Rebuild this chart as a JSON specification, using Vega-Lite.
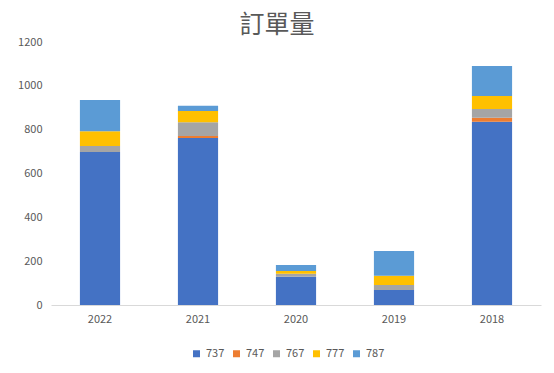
{
  "$schema": "https://vega.github.io/schema/vega-lite/v6.json",
  "width": 490,
  "height": 263,
  "autosize": {"type": "none"},
  "padding": {"left": 51, "top": 42, "right": 13, "bottom": 68},
  "background": "white",
  "title": {
    "text": "訂單量",
    "font": "Noto Sans CJK TC",
    "fontSize": 25,
    "fontWeight": "normal",
    "color": "#595959",
    "anchor": "middle",
    "dx": -19,
    "offset": -2
  },
  "data": {
    "values": [
      {"year": "2022", "model": "737", "orders": 698},
      {"year": "2022", "model": "747", "orders": 0},
      {"year": "2022", "model": "767", "orders": 27},
      {"year": "2022", "model": "777", "orders": 68},
      {"year": "2022", "model": "787", "orders": 142},
      {"year": "2021", "model": "737", "orders": 762},
      {"year": "2021", "model": "747", "orders": 9},
      {"year": "2021", "model": "767", "orders": 63},
      {"year": "2021", "model": "777", "orders": 51},
      {"year": "2021", "model": "787", "orders": 24},
      {"year": "2020", "model": "737", "orders": 129},
      {"year": "2020", "model": "747", "orders": 0},
      {"year": "2020", "model": "767", "orders": 14},
      {"year": "2020", "model": "777", "orders": 12},
      {"year": "2020", "model": "787", "orders": 27},
      {"year": "2019", "model": "737", "orders": 68},
      {"year": "2019", "model": "747", "orders": 0},
      {"year": "2019", "model": "767", "orders": 23},
      {"year": "2019", "model": "777", "orders": 43},
      {"year": "2019", "model": "787", "orders": 112},
      {"year": "2018", "model": "737", "orders": 836},
      {"year": "2018", "model": "747", "orders": 18},
      {"year": "2018", "model": "767", "orders": 40},
      {"year": "2018", "model": "777", "orders": 60},
      {"year": "2018", "model": "787", "orders": 136}
    ]
  },
  "mark": {"type": "bar"},
  "encoding": {
    "x": {
      "field": "year",
      "type": "nominal",
      "sort": ["2022", "2021", "2020", "2019", "2018"],
      "scale": {"paddingInner": 0.59, "paddingOuter": 0.295},
      "axis": {
        "title": null,
        "labelAngle": 0,
        "ticks": false,
        "domainColor": "#D9D9D9",
        "labelColor": "#595959",
        "labelFont": "Noto Sans CJK TC",
        "labelFontSize": 11,
        "labelPadding": 8
      }
    },
    "y": {
      "field": "orders",
      "type": "quantitative",
      "stack": "zero",
      "scale": {"domain": [0, 1200]},
      "axis": {
        "title": null,
        "values": [0, 200, 400, 600, 800, 1000, 1200],
        "format": "d",
        "grid": false,
        "domain": false,
        "ticks": false,
        "labelColor": "#595959",
        "labelFont": "Noto Sans CJK TC",
        "labelFontSize": 11,
        "labelPadding": 9
      }
    },
    "color": {
      "field": "model",
      "type": "nominal",
      "scale": {
        "domain": ["737", "747", "767", "777", "787"],
        "range": ["#4472C4", "#ED7D31", "#A5A5A5", "#FFC000", "#5B9BD5"]
      },
      "legend": {
        "title": null,
        "orient": "none",
        "direction": "horizontal",
        "legendX": 140,
        "legendY": 306,
        "symbolType": "square",
        "symbolSize": 49,
        "symbolStrokeWidth": 0,
        "labelColor": "#595959",
        "labelFont": "Noto Sans CJK TC",
        "labelFontSize": 11,
        "labelOffset": 4,
        "columnPadding": 6
      }
    },
    "order": {"field": "model", "sort": "ascending"}
  },
  "config": {"view": {"stroke": null}}
}
